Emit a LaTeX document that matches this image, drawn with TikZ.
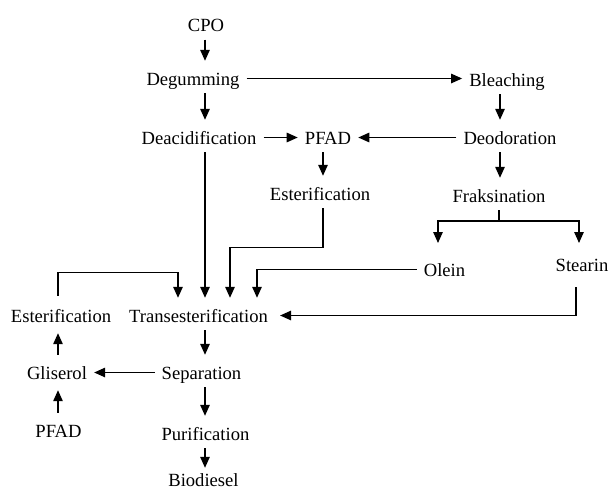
\documentclass[tikz,border=0pt]{standalone}
\usepackage{fontspec}
\setmainfont{Liberation Serif}
\usetikzlibrary{arrows.meta}
\tikzset{
  stage/.style={font=\fontsize{18.6}{22}\selectfont, text height=13pt, text depth=0pt,
    inner xsep=7pt, inner ysep=8pt, anchor=base},
  flow/.style={line width=1.3pt, -{Triangle[length=11pt,width=9.5pt]}},
  down/.style={flow, shorten >=3pt},
  up/.style={flow, shorten <=3pt, shorten >=3pt},
}

\begin{document}
\begin{tikzpicture}[x=1pt, y=-1pt]
  \useasboundingbox (0,0) rectangle (611,491);
  % columns of the connectors
  \coordinate (mainx) at (205,0);
  \coordinate (rightx) at (500,0);
  \coordinate (pfadx) at (323,0);
  \coordinate (leftx) at (58,0);
  \coordinate (in1) at (178,0);
  \coordinate (in3) at (230,0);
  \coordinate (in4) at (257,0);
  % refining line
  \node[stage] (cpo) at (206,31.5) {CPO};
  \node[stage] (degum) at (193,85) {Degumming};
  \node[stage] (bleach) at (507,86) {Bleaching};
  \node[stage] (deac) at (199,144) {Deacidification};
  \node[stage] (pfad) at (328,144) {PFAD};
  \node[stage] (deodor) at (510,144) {Deodoration};
  \node[stage] (esterm) at (320,200) {Esterification};
  \node[stage] (fraks) at (499,202) {Fraksination};
  \node[stage] (olein) at (444.5,276) {Olein};
  \node[stage] (stearin) at (582,271) {Stearin};
  % biodiesel line
  \node[stage] (trans) at (198.5,322) {Transesterification};
  \node[stage] (esterl) at (61,322) {Esterification};
  \node[stage] (gliserol) at (57,379) {Gliserol};
  \node[stage] (sep) at (201.5,379) {Separation};
  \node[stage] (pfadl) at (58.5,437) {PFAD};
  \node[stage] (purif) at (205.5,440) {Purification};
  \node[stage] (bio) at (203.5,486) {Biodiesel};

  % top part
  \draw[down] (cpo.south -| mainx) -- (degum.north -| mainx);
  \draw[flow] (degum.east) -- (bleach.west |- degum.east);
  \draw[down] (degum.south -| mainx) -- (deac.north -| mainx);
  \draw[flow] (deac.east) -- (pfad.west);
  \draw[flow] (deodor.west) -- (pfad.east);
  \draw[down] (bleach.south -| rightx) -- (deodor.north -| rightx);
  \draw[down] (pfad.south -| pfadx) -- (esterm.north -| pfadx);
  \draw[down] (deodor.south -| rightx) -- (fraks.north -| rightx);
  % fractions
  \coordinate (split) at (499,221);
  \coordinate (ol) at (438,243);
  \coordinate (st) at (579,243);
  \draw[line width=1.3pt] (fraks.south) -- (split);
  \draw[flow] (split) -| (ol);
  \draw[flow] (split) -| (st);
  % feeds into transesterification
  \draw[down] (deac.south -| mainx) -- (trans.north -| mainx);
  \draw[down, shorten <=5pt] (esterl.north -| leftx) -- ++(0,-28) -| (trans.north -| in1);
  \draw[down] (esterm.south -| pfadx) -- ++(0,39) -| (trans.north -| in3);
  \draw[down] (olein.west) -| (trans.north -| in4);
  \draw[flow, shorten <=8pt, shorten >=5pt] ([xshift=-6pt]stearin.south) |- (trans.east);
  % bottom part
  \draw[down] (trans.south -| mainx) -- (sep.north -| mainx);
  \draw[flow] (sep.west) -- (gliserol.east);
  \draw[up] (gliserol.north -| leftx) -- (esterl.south -| leftx);
  \draw[up] (pfadl.north -| leftx) -- (gliserol.south -| leftx);
  \draw[down] (sep.south -| mainx) -- (purif.north -| mainx);
  \draw[flow, shorten >=-3pt] (purif.south -| mainx) -- (bio.north -| mainx);
\end{tikzpicture}
\end{document}
